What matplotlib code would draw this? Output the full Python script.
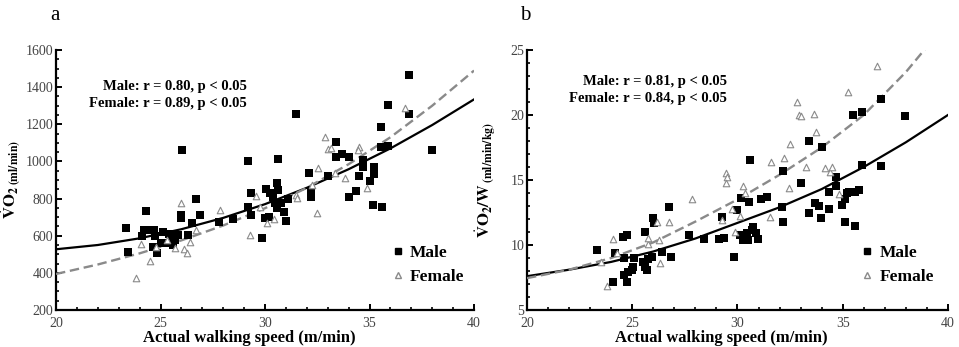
import numpy as np
import matplotlib
matplotlib.use("Agg")
import matplotlib.pyplot as plt
from matplotlib.ticker import MultipleLocator
from matplotlib.lines import Line2D

plt.rcParams['font.family'] = ['Liberation Serif', 'DejaVu Serif']
plt.rcParams['mathtext.fontset'] = 'stix'

# ---- panel a: VO2 (ml/min) vs walking speed ----
a_male_x = [23.35, 23.46, 24.29, 24.2, 24.6, 24.7, 24.65, 24.85, 25.0, 25.1, 25.4, 25.5,
            25.85, 25.7, 25.6, 26.05, 26.0, 26.0, 26.5, 26.3, 26.7, 26.9, 27.8, 28.45,
            29.2, 29.35, 29.35, 29.85, 30.03, 30.0, 30.2, 30.24, 30.4, 30.56, 30.6, 30.64,
            30.5, 30.56, 30.77, 30.9, 31.0, 31.1, 31.5, 32.1, 32.2, 32.2, 33.0, 33.4,
            33.4, 33.7, 34.0, 34.7, 34.7, 34.5, 35.2, 35.0, 35.2, 34.35, 34.0, 35.15,
            35.6, 35.55, 35.9, 36.9, 36.9, 35.55, 35.9, 38.0, 29.2, 24.1, 24.75, 25.3]
a_male_y = [643, 510, 731, 631, 631, 631, 541, 509, 559, 618, 607, 604,
            604, 577, 550, 1062, 712, 694, 667, 604, 796, 710, 672, 688,
            1002, 832, 712, 590, 850, 694, 703, 828, 810, 882, 846, 1011,
            774, 748, 778, 730, 681, 796, 1254, 939, 834, 810, 923, 1106,
            1022, 1040, 1026, 1008, 972, 922, 972, 896, 932, 843, 808, 764,
            755, 1184, 1304, 1467, 1254, 1080, 1083, 1062, 756, 600, 598, 560]
a_female_x = [23.83, 24.07, 24.5, 25.7, 26.14, 26.25, 26.0, 26.4, 26.7, 27.85, 29.3,
              29.76, 29.57, 30.08, 30.45, 31.5, 31.55, 32.5, 32.55, 32.87, 33.03, 33.14,
              33.83, 33.35, 34.5, 34.45, 34.86, 36.7, 32.26, 24.8, 25.3]
a_female_y = [370, 554, 462, 532, 528, 505, 778, 568, 631, 739, 604,
              756, 814, 670, 688, 819, 801, 724, 963, 1130, 1065, 1071,
              909, 936, 1076, 1062, 855, 1286, 873, 540, 575]

# fitted curves
fit_x = [20, 22, 24, 26, 28, 30, 32, 34, 36, 38, 40]
a_male_fit = [527, 550, 586, 635, 696, 770, 858, 958, 1070, 1196, 1334]
a_female_fit = [394, 445, 505, 575, 655, 748, 858, 985, 1130, 1300, 1489]

# ---- panel b: VO2/W (ml/min/kg) vs walking speed ----
b_male_x = [23.35, 24.08, 24.2, 24.55, 24.74, 24.6, 24.6, 24.74, 24.8, 25.0, 25.06, 25.1,
            25.6, 25.5, 25.6, 25.7, 25.77, 25.96, 26.0, 26.05, 26.4, 26.75, 26.85, 27.7,
            28.4, 29.1, 29.25, 29.36, 29.83, 29.96, 30.1, 30.17, 30.6, 30.56, 30.43, 30.67,
            30.75, 30.88, 30.99, 30.5, 30.28, 31.1, 31.4, 32.1, 32.17, 32.17, 33.0, 33.4,
            33.4, 33.7, 33.85, 34.0, 33.95, 34.35, 34.34, 34.67, 34.7, 34.97, 35.1, 35.18,
            35.3, 35.57, 35.76, 35.1, 35.57, 35.5, 35.9, 35.92, 36.84, 36.84, 37.94]
b_male_y = [9.62, 7.18, 9.36, 10.64, 10.77, 8.97, 7.7, 7.18, 7.95, 8.08, 8.33, 8.97,
            11.03, 8.72, 8.33, 8.08, 8.9, 9.1, 12.05, 11.67, 9.49, 12.95, 9.1, 10.77,
            10.43, 10.43, 12.18, 10.56, 9.1, 12.7, 10.77, 13.6, 16.54, 13.33, 10.9, 11.15,
            11.41, 10.9, 10.43, 10.38, 10.38, 13.51, 13.67, 12.9, 15.69, 11.8, 14.8, 18.0,
            12.49, 13.2, 13.0, 17.56, 12.1, 12.8, 14.1, 15.26, 14.54, 13.08, 13.5, 13.97,
            14.1, 14.1, 14.23, 11.8, 11.46, 20.0, 20.26, 16.15, 21.2, 16.1, 19.92]
b_female_x = [23.8, 24.08, 25.77, 25.77, 26.17, 26.25, 26.3, 26.77, 27.86, 29.44, 29.49,
              29.46, 29.25, 29.72, 29.88, 30.28, 30.36, 30.1, 31.54, 31.6, 32.2, 32.5,
              32.45, 32.83, 32.9, 33.04, 33.25, 33.63, 33.72, 34.15, 34.4, 34.5, 34.83,
              35.23, 36.65, 23.5, 24.3]
b_female_y = [6.85, 10.44, 10.1, 10.5, 11.8, 10.4, 8.6, 11.8, 13.5, 15.56, 15.26,
              14.8, 11.9, 12.8, 11.03, 14.5, 14.03, 12.2, 12.18, 16.4, 16.67, 17.8,
              14.4, 21.0, 20.0, 19.95, 16.0, 20.08, 18.67, 15.9, 15.64, 16.03, 13.9,
              21.8, 23.77, 8.7, 9.4]
b_male_fit = [7.6, 8.1, 8.7, 9.5, 10.5, 11.7, 12.9, 14.3, 16.0, 17.9, 20.0]
b_female_fit = [7.45, 8.1, 9.0, 10.2, 11.8, 13.5, 15.4, 17.5, 20.0, 23.3, 27.2]

GRAY = '#8a8a8a'

fig = plt.figure(figsize=(9.59, 3.47), dpi=100)
ax_a = fig.add_axes([0.0584, 0.1066, 0.4359, 0.7494])
ax_b = fig.add_axes([0.5495, 0.1066, 0.4390, 0.7494])


def draw(ax, mx, my, fx, fy, mfit, ffit, ylim, ymaj, ymin, ylabel, ylab_x,
         txt, tpos, leg_anchor):
    ax.plot(fit_x, mfit, color='black', lw=1.6, zorder=3)
    ax.plot(fit_x, ffit, color=GRAY, lw=1.7, ls=(0, (4, 2)), zorder=3)
    ax.scatter(mx, my, marker='s', s=32, color='black', lw=0, zorder=4)
    ax.scatter(fx, fy, marker='^', s=22, facecolor='white', edgecolor=GRAY, lw=0.8, zorder=5)
    ax.set_xlim(20, 40)
    ax.set_ylim(*ylim)
    ax.xaxis.set_major_locator(MultipleLocator(5))
    ax.xaxis.set_minor_locator(MultipleLocator(1))
    ax.yaxis.set_major_locator(MultipleLocator(ymaj))
    ax.yaxis.set_minor_locator(MultipleLocator(ymin))
    for s in ('top', 'right'):
        ax.spines[s].set_visible(False)
    for s in ('left', 'bottom'):
        ax.spines[s].set_linewidth(1.6)
    ax.tick_params(which='major', direction='in', length=4, width=1.4,
                   labelsize=10, labelcolor='#444444')
    ax.tick_params(axis='y', which='major', pad=2)
    ax.tick_params(axis='x', which='major', pad=5)
    ax.tick_params(which='minor', direction='in', length=2.5, width=1.2)
    ax.set_xlabel('Actual walking speed (m/min)', fontsize=12, fontweight='bold')
    ax.xaxis.set_label_coords(0.462, -0.078)
    ax.set_ylabel(ylabel, fontsize=12)
    ax.yaxis.set_label_coords(ylab_x, 0.5)
    ax.text(tpos[0], tpos[1], txt, transform=ax.transAxes, ha='right', va='top',
            fontsize=10.5, fontweight='bold', linespacing=1.45)
    handles = [Line2D([], [], marker='s', ls='none', color='black', markersize=4),
               Line2D([], [], marker='^', ls='none', markerfacecolor='white',
                      markeredgecolor=GRAY, markersize=4)]
    ax.legend(handles, ['Male', 'Female'], loc='upper left', bbox_to_anchor=leg_anchor,
              frameon=False, prop={'weight': 'bold', 'size': 12.5}, handlelength=0.6,
              handletextpad=0.4, labelspacing=0.45, borderpad=0)


draw(ax_a, a_male_x, a_male_y, a_female_x, a_female_y, a_male_fit, a_female_fit,
     (200, 1600), 200, 50,
     r'$\dot{\mathbf{V}}\mathbf{O}_{\mathbf{2}}\,{}_{\mathbf{(ml/min)}}$', -0.08,
     'Male: r = 0.80, p < 0.05\nFemale: r = 0.89, p < 0.05', (0.457, 0.885), (0.785, 0.285))
draw(ax_b, b_male_x, b_male_y, b_female_x, b_female_y, b_male_fit, b_female_fit,
     (5, 25), 5, 1,
     r'$\dot{\mathbf{V}}\mathbf{O}_{\mathbf{2}}\mathbf{/W}\,{}_{\mathbf{(ml/min/kg)}}$', -0.066,
     'Male: r = 0.81, p < 0.05\nFemale: r = 0.84, p < 0.05', (0.475, 0.905), (0.775, 0.285))

fig.text(50 / 959, 1 - 16 / 347, 'a', fontsize=15, ha='left', va='center')
fig.text(520 / 959, 1 - 16 / 347, 'b', fontsize=15, ha='left', va='center')

fig.savefig('out.png', dpi=100)
